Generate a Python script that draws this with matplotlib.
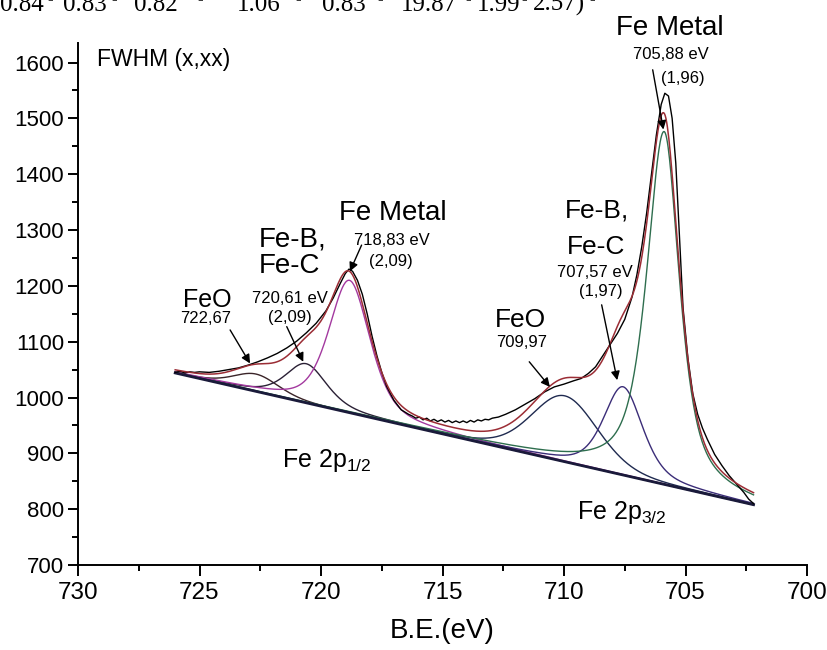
# ---------------------------------------- Import Libraries ---------------------------------------- #
import numpy as np
import matplotlib
matplotlib.use("Agg")
import matplotlib.pyplot as plt


be_data = [726.0, 725.8, 725.6, 725.4, 725.2, 725.0, 724.6, 724.2, 723.8, 723.4,
           723.0, 722.6, 722.2, 721.8, 721.4, 721.0, 720.6, 720.2, 719.8, 719.5,
           719.2, 719.0, 718.85, 718.7, 718.5, 718.3, 718.1, 717.9, 717.7, 717.5,
           717.3, 717.0, 716.7, 716.4, 716.25, 716.1, 715.95, 715.8, 715.65, 715.5,
           715.35, 715.2, 715.05, 714.9, 714.75, 714.6, 714.45, 714.3, 714.15, 714.0,
           713.85, 713.7, 713.55, 713.4, 713.25, 713.1, 712.95, 712.7, 712.4, 712.0,
           711.6, 711.2, 710.8, 710.4, 710.0, 709.6, 709.3, 709.0, 708.7, 708.4,
           708.1, 707.8, 707.5, 707.2, 707.0, 706.8, 706.6, 706.4, 706.2, 706.0,
           705.85, 705.7, 705.55, 705.4, 705.25, 705.1, 704.9, 704.7, 704.5, 704.3,
           704.1, 703.8, 703.5, 703.2, 702.9, 702.6, 702.4, 702.2]
counts_data = [1045, 1047, 1044, 1046, 1045, 1046, 1045, 1047, 1050, 1053,
               1058, 1064, 1071, 1079, 1089, 1101, 1116, 1133, 1155, 1178,
               1205, 1222, 1230, 1226, 1210, 1185, 1150, 1110, 1075, 1045,
               1020, 995, 978, 970, 967, 963, 965, 960, 963, 958,
               961, 957, 960, 956, 959, 955, 958, 955, 958, 955,
               959, 956, 960, 958, 961, 960, 963, 965, 970, 978,
               988, 998, 1010, 1019, 1024, 1030, 1034, 1043, 1055, 1075,
               1095, 1115, 1140, 1180, 1220, 1270, 1330, 1400, 1470, 1525,
               1545, 1540, 1500, 1420, 1290, 1160, 1070, 1007, 970, 945,
               925, 898, 878, 860, 845, 830, 818, 810]

# ---------- Linear background ---------- #
bg_be = [726.0, 702.2]
bg_counts = [1044, 808]

# ---------- Fitted components ---------- #
comp_center = [722.67, 720.61, 718.83, 709.97, 707.57, 705.88]
comp_height = [31, 70, 237, 118, 158, 632]
comp_hw_hi = [1.1, 1.0, 1.0, 1.6, 0.95, 0.85]   # half width, high B.E. side
comp_hw_lo = [1.1, 1.0, 1.0, 1.6, 0.95, 0.75]   # half width, low B.E. side
comp_eta = [0.3, 0.5, 0.5, 0.2, 0.5, 0.7]
comp_color = ["#3a2428", "#2a2035", "#a3399f", "#1f2a50", "#3b2d78", "#2e6e4e"]


def pseudo_voigt(x, c, h, hw_hi, hw_lo, eta):
    hw = np.where(x > c, hw_hi, hw_lo)
    u = ((x - c) / hw) ** 2
    return h * (eta / (1 + u) + (1 - eta) * np.exp(-np.log(2) * u))


# ---------- Fonts ---------- #
plt.rcParams["font.family"] = ["Liberation Sans", "DejaVu Sans"]
plt.rcParams["mathtext.fontset"] = "custom"
plt.rcParams["mathtext.rm"] = "Liberation Sans"

fig = plt.figure(figsize=(8.27, 6.5), dpi=100)
ax = fig.add_axes([78 / 827, 1 - 565 / 650, (807 - 78) / 827, (565 - 43) / 650])

# ---------- Curves ---------- #
x = np.linspace(bg_be[0], bg_be[1], 800)
bg = np.interp(x, bg_be[::-1], bg_counts[::-1])
envelope = bg.copy()
for c, h, hh, hl, eta, col in zip(comp_center, comp_height, comp_hw_hi, comp_hw_lo, comp_eta, comp_color):
    peak = pseudo_voigt(x, c, h, hh, hl, eta)
    envelope += peak
    ax.plot(x, bg + peak, color=col, lw=1.0)

ax.plot(bg_be, bg_counts, color="#1a1a3a", lw=2.0)
ax.plot(be_data, counts_data, color="black", lw=1.0)
ax.plot(x, envelope, color="#9b2d35", lw=1.1)

# ---------- Axes ---------- #
# ticks first: set_ticks may widen the limits
ax.set_xticks(np.arange(730, 699, -5))
ax.set_xticks(np.arange(727.5, 700, -2.5), minor=True)
ax.set_yticks(np.arange(700, 1601, 100))
ax.set_yticks(np.arange(750, 1551, 100), minor=True)
ax.set_xlim(730, 700)
ax.set_ylim(700, 1635)
for s in ["top", "right"]:
    ax.spines[s].set_visible(False)
for s in ["left", "bottom"]:
    ax.spines[s].set_linewidth(1.4)
ax.tick_params(axis="x", which="major", direction="out", length=8, width=1.4, pad=4, labelsize=17.5)
ax.tick_params(axis="x", which="minor", direction="out", length=4.5, width=1.4)
ax.tick_params(axis="y", which="major", direction="out", length=7, width=1.4, pad=3, labelsize=16)
ax.tick_params(axis="y", which="minor", direction="out", length=4, width=1.4)
ax.set_xlabel("B.E.(eV)", fontsize=20, labelpad=10)

# ---------- Labels ---------- #
big = 20
small = 12
ax.text(729.2, 1593, "FWHM (x,xx)", fontsize=16.5, va="baseline", ha="left")

ax.text(705.64, 1650, "Fe Metal", fontsize=big, ha="center", va="baseline", clip_on=False)
ax.text(705.62, 1607, "705,88 eV", fontsize=small, ha="center", va="baseline", clip_on=False)
ax.text(705.12, 1564, "(1,96)", fontsize=small, ha="center", va="baseline")

ax.text(708.66, 1322, "Fe-B,", fontsize=19, ha="center", va="baseline")
ax.text(708.66, 1257, "Fe-C", fontsize=19, ha="center", va="baseline")
ax.text(708.74, 1216, "707,57 eV", fontsize=small, ha="center", va="baseline")
ax.text(708.5, 1182, "(1,97)", fontsize=small, ha="center", va="baseline")

ax.text(711.79, 1126, "FeO", fontsize=19, ha="center", va="baseline")
ax.text(711.73, 1091, "709,97", fontsize=small, ha="center", va="baseline")

ax.text(717.06, 1318, "Fe Metal", fontsize=big, ha="center", va="baseline")
ax.text(717.1, 1273, "718,83 eV", fontsize=small, ha="center", va="baseline")
ax.text(717.12, 1236, "(2,09)", fontsize=small, ha="center", va="baseline")

ax.text(721.17, 1270, "Fe-B,", fontsize=big, ha="center", va="baseline")
ax.text(721.28, 1223, "Fe-C", fontsize=big, ha="center", va="baseline")
ax.text(721.28, 1170, "720,61 eV", fontsize=small, ha="center", va="baseline")
ax.text(721.28, 1136, "(2,09)", fontsize=small, ha="center", va="baseline")

ax.text(724.67, 1162, "FeO", fontsize=18, ha="center", va="baseline")
ax.text(724.73, 1134, "722,67", fontsize=small, ha="center", va="baseline")

ax.text(721.6, 876, r"Fe 2p$\mathregular{_{1/2}}$", fontsize=18, ha="left", va="baseline")
ax.text(709.47, 783, r"Fe 2p$\mathregular{_{3/2}}$", fontsize=18, ha="left", va="baseline")

# ---------- Arrows ---------- #
arrows = [((706.35, 1587), (705.91, 1480)),
          ((708.45, 1166), (707.81, 1031)),
          ((711.43, 1064), (710.58, 1019)),
          ((718.33, 1273), (718.81, 1226)),
          ((721.41, 1127), (720.73, 1064)),
          ((723.74, 1121), (722.92, 1061))]
for tail, tip in arrows:
    ax.annotate("", xy=tip, xytext=tail,
                arrowprops=dict(arrowstyle="-|>", color="black", lw=1.0,
                                mutation_scale=13, shrinkA=0, shrinkB=0))

# ---------- Cropped line above the chart ---------- #
top_vals = ["0.84", "0.83", "0.82", "1.06", "0.83", "19.87", "1.99", "2.57)"]
top_left_px = [0, 63, 134, 237, 322, 401, 477, 533]
for val, px in zip(top_vals, top_left_px):
    fig.text(px / 827, 1 - 11 / 650, val, family=["Liberation Serif", "DejaVu Serif"],
             fontsize=18, va="baseline", ha="left")
for px in [50, 114, 200, 298, 380, 468, 524, 592]:
    fig.text(px / 827, 1 - 4 / 650, "-", family=["Liberation Serif", "DejaVu Serif"],
             fontsize=12, va="baseline", ha="center")

fig.savefig("out.png", dpi=100)
